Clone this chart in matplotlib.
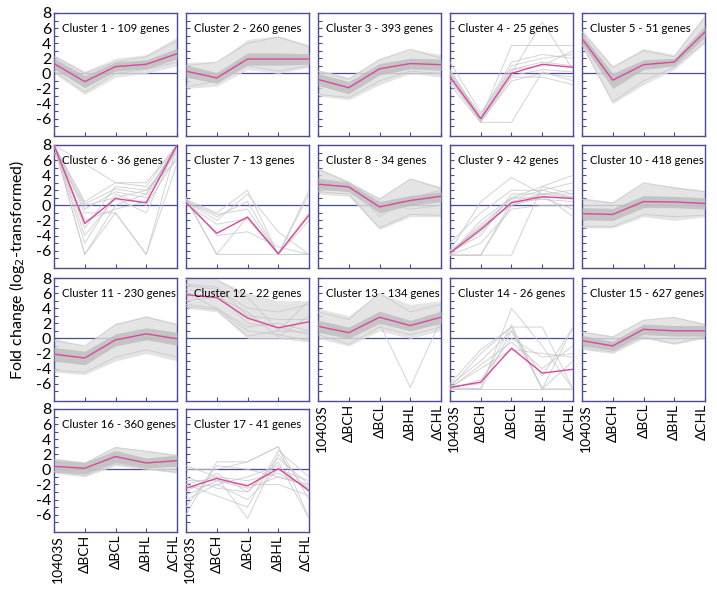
import matplotlib
matplotlib.use("Agg")
import matplotlib.pyplot as plt
import matplotlib.transforms as mtransforms
import numpy as np

# Popisky osy x (kmeny)
strains = ["10403S", "ΔBCH", "ΔBCL", "ΔBHL", "ΔCHL"]

# Nazvy clusteru a pocty genu
cluster_names = ["Cluster %d" % i for i in range(1, 18)]
gene_counts = [109, 260, 393, 25, 51, 36, 13, 34, 42, 418,
               230, 22, 134, 26, 627, 360, 41]

# Prumerny profil (ruzova cara)
means = [
    [1.3, -1.1, 0.9, 1.2, 2.6],
    [0.3, -0.6, 1.9, 1.9, 1.9],
    [-0.8, -1.9, 0.6, 1.3, 1.15],
    [-0.45, -6.0, 0.0, 1.2, 0.8],
    [4.6, -0.9, 1.15, 1.5, 5.5],
    [8.0, -2.4, 0.9, 0.35, 8.0],
    [0.35, -3.7, -1.55, -6.4, -1.3],
    [2.8, 2.45, -0.2, 0.65, 1.2],
    [-6.3, -3.2, 0.35, 1.15, 0.9],
    [-1.1, -1.2, 0.5, 0.45, 0.25],
    [-2.1, -2.6, -0.2, 0.6, -0.05],
    [5.8, 5.4, 2.7, 1.4, 2.2],
    [1.6, 0.75, 2.8, 1.7, 2.8],
    [-6.5, -5.8, -1.3, -4.6, -4.1],
    [-0.3, -1.0, 1.2, 1.0, 1.0],
    [0.4, 0.15, 1.7, 0.85, 1.15],
    [-2.5, -1.2, -2.2, 0.1, -2.8],
]

# Vnejsi obalka sedych car (min / max)
outer_lo = [
    [0.0, -2.8, -0.5, 0.0, 1.0],
    [-2.0, -1.7, 0.5, 0.0, 0.8],
    [-3.0, -3.5, -1.5, 0.0, -0.5],
    None, [3.5, -4.0, -1.5, 0.5, 4.0], None, None,
    [1.5, 1.2, -3.2, -1.5, -1.5],
    None,
    [-3.0, -3.0, -1.5, -2.0, -1.5],
    [-4.5, -4.8, -3.0, -2.0, -3.0],
    [4.0, 3.5, 0.0, 0.0, -0.5],
    [0.0, -1.0, 1.0, 0.0, 1.0],
    None,
    [-1.5, -2.0, 0.0, -0.8, 0.0],
    [-0.5, -1.0, 0.5, 0.0, -0.5],
    None,
]
outer_hi = [
    [2.5, 0.3, 2.0, 2.5, 4.8],
    [1.5, 1.5, 4.5, 5.0, 3.8],
    [0.5, -0.5, 2.0, 3.2, 2.5],
    None, [5.8, 1.0, 3.3, 2.5, 7.8], None, None,
    [5.0, 3.2, 1.0, 3.6, 2.5],
    None,
    [1.0, 0.5, 3.0, 2.5, 2.0],
    [0.0, -1.0, 2.0, 3.0, 2.0],
    [7.8, 7.8, 6.0, 5.0, 5.0],
    [4.0, 3.0, 6.0, 4.5, 5.0],
    None,
    [1.0, 0.3, 2.5, 2.8, 2.0],
    [1.5, 1.0, 3.0, 2.5, 2.0],
    None,
]

# Husta cast sedych car (jadro)
core_lo = [
    [0.6, -1.9, 0.3, 0.6, 1.9],
    [-0.5, -1.3, 1.1, 1.1, 1.2],
    [-1.6, -2.7, -0.2, 0.6, 0.4],
    None, [3.9, -2.0, 0.5, 1.0, 4.8], None, None,
    [2.2, 1.8, -1.0, 0.0, 0.5],
    None,
    [-1.9, -2.0, -0.3, -0.3, -0.5],
    [-3.0, -3.5, -1.0, -0.2, -0.9],
    None,
    [0.8, 0.0, 2.0, 1.0, 2.0],
    None,
    [-1.0, -1.6, 0.5, 0.3, 0.3],
    [-0.4, -0.6, 0.9, 0.2, 0.4],
    None,
]
core_hi = [
    [2.0, -0.3, 1.5, 1.8, 3.3],
    [1.1, 0.1, 2.7, 2.7, 2.6],
    [0.0, -1.1, 1.3, 2.0, 1.9],
    None, [5.2, 0.0, 1.8, 2.0, 6.3], None, None,
    [3.5, 3.0, 0.5, 1.3, 1.8],
    None,
    [-0.3, -0.4, 1.3, 1.2, 1.0],
    [-1.2, -1.7, 0.6, 1.4, 0.8],
    None,
    [2.4, 1.5, 3.6, 2.4, 3.6],
    None,
    [0.4, -0.4, 1.9, 1.7, 1.7],
    [1.2, 0.9, 2.5, 1.5, 1.9],
    None,
]

# Jednotlive sede profily (hlavne u malych clusteru)
gene_lines = [
    [[2.2, 0.0, 1.5, 2.2, 4.3], [0.3, -2.5, 0.0, 0.5, 1.5]],
    [[1.0, 1.5, 4.0, 4.8, 3.5], [-1.8, -1.0, 1.0, 0.3, 1.0]],
    [[0.3, -0.8, 1.8, 3.2, 2.0], [-2.8, -3.2, -1.0, 0.3, 0.0]],
    [[1.5, -5.2, 0.5, 1.0, 3.0], [-0.5, -6.5, -6.5, 0.2, -1.0],
     [0.0, -6.0, 3.7, 3.7, 3.7], [-1.0, -6.3, 0.0, 6.8, 0.5],
     [0.5, -5.8, 1.0, 2.0, 2.5], [-1.5, -6.5, -0.5, -0.5, -1.5],
     [0.3, -6.0, 0.5, 1.5, 1.0], [-0.8, -6.2, -0.3, 0.5, 0.2],
     [0.0, -5.5, 1.5, 2.5, 2.0], [-0.3, -6.4, -1.0, 0.0, -0.5]],
    [[5.5, 0.8, 3.0, 2.2, 7.5], [3.8, -3.8, -1.0, 0.8, 4.2]],
    [[8.0, -6.5, -1.0, -6.5, 8.0], [8.0, 5.5, 3.0, 3.0, 8.0],
     [8.0, 0.5, 3.0, 2.5, 8.0], [8.0, -4.0, 1.0, 2.0, 7.0],
     [8.0, -6.5, 0.0, 1.5, 8.0], [8.0, -1.0, -1.0, -6.5, 5.5],
     [8.0, -3.0, 2.5, 2.0, 6.0], [7.0, 0.0, 1.0, -1.0, 8.0],
     [8.0, -0.5, 1.8, 1.0, 8.0], [8.0, -2.0, -0.5, 0.5, 7.5],
     [8.0, 0.2, 2.2, 1.5, 8.0], [8.0, -5.0, 1.5, 0.0, 6.5]],
    [[1.0, -6.5, -6.5, -6.5, -6.5], [0.8, -1.0, 2.0, -6.5, 2.0],
     [0.5, -2.0, 1.5, -3.5, -6.5], [0.8, -6.5, -1.5, -6.5, -6.5],
     [0.5, -1.5, 0.5, -6.5, -1.0], [0.2, -2.5, -1.8, -6.5, 1.5],
     [0.9, -4.0, -3.5, -5.5, -6.5], [0.6, -1.2, -0.5, -6.5, -2.0]],
    [[4.8, 3.0, 0.8, 3.5, 2.2], [1.8, 1.5, -3.0, -1.2, -1.3],
     [3.5, 3.0, -1.5, 1.0, 2.0], [2.0, 2.0, 0.5, -0.5, 0.0]],
    [[-6.6, -6.6, 0.5, 1.5, 1.0], [-6.6, -6.6, -6.6, 2.5, 1.5],
     [-6.0, 0.5, 3.7, 1.5, 2.0], [-6.5, -2.0, 1.0, 2.5, 4.0],
     [-6.2, -4.0, 1.5, 1.5, -1.5], [-6.6, -5.0, -0.5, 0.0, 0.0],
     [-5.0, -1.0, 2.0, 2.0, 3.0], [-6.4, -3.5, 0.5, 0.8, 0.5],
     [-6.5, -2.8, 0.0, 1.5, 1.5], [-6.0, -3.0, 1.0, 1.0, -0.5],
     [-6.6, -6.6, 0.0, 1.0, 1.2], [-6.3, -2.5, 0.8, 2.0, 1.0]],
    [[0.8, 0.3, 3.0, 2.3, 1.8], [-2.8, -2.8, -1.2, -1.5, -1.3]],
    [[-0.3, -1.0, 1.8, 2.8, 1.8], [-4.2, -4.5, -2.5, -1.5, -2.5]],
    [[7.8, 7.8, 5.5, 1.0, 5.0], [7.0, 6.5, 4.0, 3.5, 4.5],
     [4.5, 4.0, 1.0, 0.5, -0.3], [6.5, 6.0, 2.0, 1.5, 0.5],
     [5.0, 5.5, 3.5, 0.2, 3.0], [6.0, 4.0, 1.5, 2.0, 1.0],
     [4.2, 3.8, 0.3, 1.0, 0.8], [7.2, 6.8, 3.0, 2.5, 2.5]],
    [[1.5, 0.8, 2.0, -6.5, 2.5], [3.5, 2.5, 6.0, 3.5, 4.5],
     [0.5, -0.8, 1.5, 0.5, 1.5]],
    [[-6.7, -6.7, -6.7, -6.7, -6.7], [-6.5, -6.7, 4.0, -1.0, -6.7],
     [-6.5, -2.0, 1.5, -6.7, 1.5], [-6.0, -1.5, 1.5, 1.5, -6.7],
     [-6.7, -6.7, 1.0, -6.7, -6.7], [-6.5, -4.0, -1.5, -2.0, -2.5],
     [-6.2, -3.0, 1.0, -5.0, 1.5], [-6.7, -5.5, 0.0, -2.5, -2.0],
     [-6.4, -6.0, 1.8, -6.7, -3.0], [-6.6, -3.5, -0.5, -4.0, -1.0]],
    [[0.8, 0.2, 2.4, 2.8, 1.8], [-1.3, -1.8, 0.2, -0.7, 0.2]],
    [[1.3, 0.8, 2.9, 2.4, 1.8], [-0.3, -0.8, 0.7, 0.1, -0.4]],
    [[-6.0, 1.0, 1.0, 3.0, -6.5], [0.5, -1.0, -6.5, 2.0, -3.0],
     [-2.0, -3.5, -5.0, 2.5, -1.0], [-5.0, 0.5, 0.0, -1.0, -2.0],
     [-1.0, -2.5, -3.0, 1.0, -6.5], [-3.5, -1.5, -2.0, -2.0, -3.5],
     [-4.0, -2.0, -4.0, 0.0, -1.5], [0.0, 0.0, 1.0, 3.0, -4.0],
     [-2.0, -1.0, -1.5, -0.5, -2.5], [-3.0, -0.5, -3.0, 1.5, -2.0],
     [-2.5, -2.0, -1.0, 0.5, -3.0], [-1.5, -1.5, -2.5, -1.0, -2.2]],
]

# Barvy
frame_col = "#4a4a98"
pink = "#d9489f"

plt.rcParams["font.family"] = ["Lato", "DejaVu Sans"]

fig = plt.figure(figsize=(7.17, 5.92), dpi=100)
x = np.arange(len(strains))
yt = np.arange(-7, 9, 1)

# Pozice panelu v pixelech (levy okraj, horni okraj)
col_left = [54, 186, 318, 450, 582]
row_top = [13, 145, 278, 409]
pw, ph = 123, 123
W, H = 717.0, 592.0

for i in range(17):
    r, c = divmod(i, 5)
    ax = fig.add_axes([col_left[c] / W, 1 - (row_top[r] + ph) / H, pw / W, ph / H])

    # Nulova cara
    ax.axhline(0, color=frame_col, lw=0.9, zorder=1)

    if outer_lo[i] is not None:
        ax.fill_between(x, outer_lo[i], outer_hi[i], color="#dedede",
                        alpha=0.8, lw=0, zorder=2)
    if core_lo[i] is not None:
        ax.fill_between(x, core_lo[i], core_hi[i], color="#bcbcbc",
                        alpha=0.8, lw=0, zorder=3)
    for g in gene_lines[i]:
        ax.plot(x, g, color="#c8c8c8", lw=0.7, alpha=0.8, zorder=3)

    ax.plot(x, means[i], color=pink, lw=1.0, zorder=5)

    ax.set_xlim(0, 4)
    ax.set_ylim(-8.3, 8)
    ax.set_yticks(yt)
    ax.set_xticks(x)
    ax.tick_params(direction="in", length=3, width=0.8, color=frame_col,
                   labelsize=11.5, pad=2)
    if c == 0:
        ax.set_yticklabels([str(v) if v % 2 == 0 else "" for v in yt])
    else:
        ax.set_yticklabels([])
    # Popisky x jen u spodnich panelu
    if i >= 12 or r == 3:
        ax.set_xticklabels(strains, rotation=90, fontsize=10)
        labs = ax.get_xticklabels()
        # posunuti krajnich popisku dovnitr panelu
        for lab, dx in ((labs[0], 3.5), (labs[-1], -3.5)):
            lab.set_transform(lab.get_transform() +
                              mtransforms.ScaledTranslation(dx / 100.0, 0, fig.dpi_scale_trans))
    else:
        ax.set_xticklabels([])
    for s in ax.spines.values():
        s.set_color(frame_col)
        s.set_linewidth(1.0)

    ax.text(0.27, 6.0, "%s - %d genes" % (cluster_names[i], gene_counts[i]),
            fontsize=8.2, va="center", ha="left", zorder=6)

fig.text(0.024, 0.545, r"Fold change (log$_2$-transformed)", rotation=90,
         va="center", ha="center", fontsize=11.5)

fig.savefig("out.png", dpi=100)
